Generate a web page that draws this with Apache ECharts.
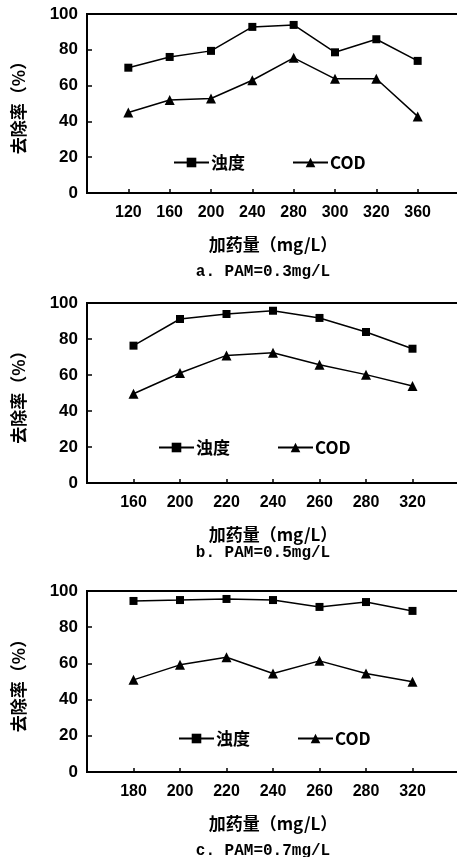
<!DOCTYPE html>
<html>
<head>
<meta charset="utf-8">
<script src="https://cdn.jsdelivr.net/npm/echarts@6/dist/echarts.min.js"></script>
<style>html,body{margin:0;padding:0;background:#fff;overflow:hidden;}#c{width:457px;height:857px;}</style>
</head>
<body>
<div id="c"></div>
<script>
const catsA = ['120','160','200','240','280','300','320','360'];
const turbA = [70, 76, 79.4, 92.8, 93.9, 78.6, 85.9, 73.8];
const codA  = [45, 52, 52.8, 63, 75.5, 63.8, 63.8, 42.8];
const catsB = ['160','200','220','240','260','280','320'];
const turbB = [76.3, 91.1, 93.9, 95.7, 91.7, 83.9, 74.6];
const codB  = [49.6, 61.1, 70.9, 72.4, 65.7, 60.2, 53.9];
const catsC = ['180','200','220','240','260','280','320'];
const turbC = [94.5, 95, 95.6, 95, 91.2, 93.9, 89];
const codC  = [50.9, 59.2, 63.4, 54.4, 61.4, 54.4, 49.8];
const seriesNames = ['浊度', 'COD'];
const yMin = 0, yMax = 100, yStep = 20;
const yName = '去除率（%）';
const xName = '加药量（mg/L）';
const captions = ['a. PAM=0.3mg/L', 'b. PAM=0.5mg/L', 'c. PAM=0.7mg/L'];

const panels = [
  {cats: catsA, t: turbA, c: codA, top: 14, h: 179, legTop: 154, legLeft: 173, capY: 272},
  {cats: catsB, t: turbB, c: codB, top: 303, h: 180, legTop: 439, legLeft: 158, capY: 553},
  {cats: catsC, t: turbC, c: codC, top: 591, h: 181, legTop: 730, legLeft: 178, capY: 851}
];

const numFont = {fontFamily: 'Liberation Sans', fontWeight: 'bold', fontSize: 16, color: '#000'};
const cjkFont = {fontFamily: 'Noto Sans CJK SC', fontWeight: 'bold', fontSize: 16, color: '#000'};

const grid = [], xAxis = [], yAxis = [], series = [], legend = [], graphic = [];
panels.forEach((p, i) => {
  grid.push({left: 87, top: p.top, width: 372, height: p.h, show: true, borderColor: '#000', borderWidth: 2, backgroundColor: 'transparent', containLabel: false, outerBoundsMode: 'none'});
  xAxis.push({
    type: 'category', gridIndex: i, boundaryGap: false,
    data: [''].concat(p.cats, ['']),
    axisLine: {lineStyle: {color: '#000', width: 2}},
    axisTick: {inside: true, length: 4, lineStyle: {color: '#000', width: 1.5}, alignWithLabel: true},
    axisLabel: Object.assign({margin: 12, interval: 0}, numFont),
    name: xName, nameLocation: 'middle', nameGap: 43,
    nameTextStyle: Object.assign({}, cjkFont, {fontSize: 17})
  });
  yAxis.push({
    type: 'value', gridIndex: i, min: yMin, max: yMax, interval: yStep,
    splitLine: {show: false},
    axisLine: {show: true, lineStyle: {color: '#000', width: 2}},
    axisTick: {show: true, inside: true, length: 5, lineStyle: {color: '#000', width: 1.5}},
    axisLabel: Object.assign({margin: 9}, numFont, {fontSize: 17}),
    name: yName, nameLocation: 'middle', nameGap: 60,
    nameTextStyle: Object.assign({}, cjkFont, {fontSize: 17})
  });
  series.push({
    name: seriesNames[0], type: 'line', xAxisIndex: i, yAxisIndex: i,
    data: [null].concat(p.t, [null]),
    symbol: 'rect', symbolSize: 8, showAllSymbol: true,
    lineStyle: {color: '#000', width: 1.5}, itemStyle: {color: '#000'},
    emphasis: {disabled: true}
  });
  series.push({
    name: seriesNames[1], type: 'line', xAxisIndex: i, yAxisIndex: i,
    data: [null].concat(p.c, [null]),
    symbol: 'triangle', symbolSize: 10, showAllSymbol: true,
    lineStyle: {color: '#000', width: 1.5}, itemStyle: {color: '#000'},
    emphasis: {disabled: true}
  });
  legend.push({
    data: seriesNames, left: p.legLeft, top: p.legTop, padding: 0,
    itemWidth: 35, itemHeight: 12, itemGap: 47,
    textStyle: Object.assign({}, cjkFont, {fontSize: 17, padding: [0, 0, 0, -3]}),
    selectedMode: false
  });
  graphic.push({
    type: 'text', x: 263, y: p.capY,
    style: {text: captions[i], fill: '#000', font: 'bold 16px "Liberation Mono"', textAlign: 'center', textVerticalAlign: 'middle'}
  });
});

const chart = echarts.init(document.getElementById('c'));
chart.setOption({animation: false, grid, xAxis, yAxis, series, legend, graphic});
</script>
</body>
</html>
